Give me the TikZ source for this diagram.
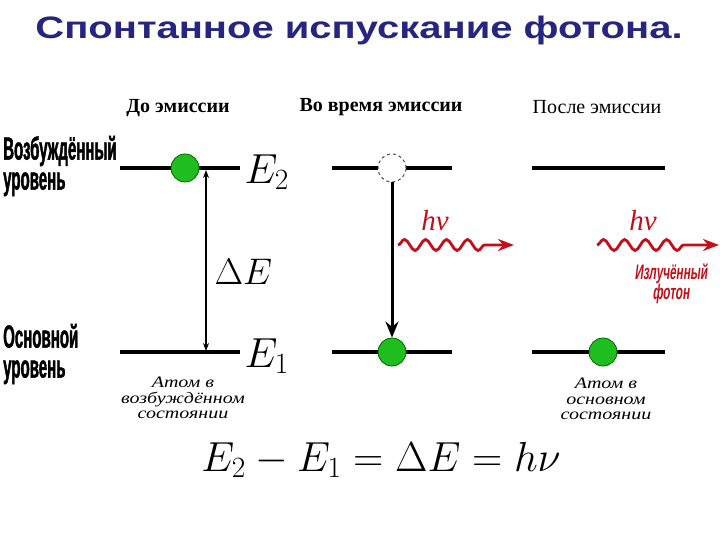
\RequirePackage{fix-cm}
\documentclass[tikz,border=0pt]{standalone}
\usepackage{amsmath}
\usepackage{fontspec}
\setmainfont{Liberation Serif}
\newfontfamily\titlefont[FakeStretch=1.29]{Liberation Sans}
\newfontfamily\narrowfont[FakeStretch=0.47,FakeBold=1.2]{Liberation Sans}
\newfontfamily\slantfont[FakeStretch=0.56,FakeSlant=0.12]{Liberation Sans}
\newfontfamily\atomfont[FakeStretch=1.25]{Liberation Serif}
\usetikzlibrary{arrows.meta,positioning,decorations.pathmorphing}
\definecolor{titleblue}{RGB}{38,38,128}
\definecolor{atomgreen}{RGB}{30,190,30}
\definecolor{photonred}{RGB}{195,15,25}

\begin{document}
\begin{tikzpicture}[x=1pt,y=-1pt,
  level/.style={line width=3.5pt},
  atom/.style={circle,draw=black!60!green,fill=atomgreen,line width=0.8pt,
    minimum size=28pt,inner sep=0pt},
  hole/.style={circle,draw=black!70,dashed,fill=white,line width=1pt,
    minimum size=28pt,inner sep=0pt},
  heading/.style={font=\fontsize{20}{22}\selectfont\bfseries},
  sidelabel/.style={font=\narrowfont\fontsize{32}{30}\selectfont\bfseries,
    align=left,inner sep=0pt},
  energy/.style={font=\fontsize{42}{46}\selectfont},
  state/.style={font=\atomfont\fontsize{16}{15.5}\selectfont\itshape,align=center},
  photon/.style={photonred,line width=2.8pt,-{Stealth[length=16pt,width=12pt]},
    decorate,decoration={snake,segment length=21pt,amplitude=5.5pt,post length=26pt}},
  quant/.style={photonred,font=\fontsize{29}{30}\selectfont\itshape}]

  \useasboundingbox (0,0) rectangle (720,540);

  % Title
  \node[titleblue,font=\titlefont\fontsize{31}{36}\selectfont\bfseries] (title) at (359,30)
    {Спонтанное испускание фотона.};

  % Column headings
  \node[heading] (head1) at (178,108) {До эмиссии};
  \node[heading] (head2) at (381,107) {Во время эмиссии};
  \node[heading,font=\fontsize{20}{22}\selectfont] (head3) at (597,107) {После эмиссии};

  % Level names
  \node[sidelabel,anchor=west] (upname) at (3,166) {Возбуждённый\\уровень};
  \node[sidelabel,anchor=west] (downname) at (3,354) {Основной\\уровень};

  % Energy levels
  \foreach \a/\b in {120/240,332/452,532/665} {
    \draw[level] (\a,168) -- (\b,168);
    \draw[level] (\a,352) -- (\b,352);
  }

  % Before emission
  \coordinate (up1) at (206,170);
  \coordinate (down1) at (206,351);
  \draw[line width=1.2pt,{Stealth[length=8pt,width=6pt]}-{Stealth[length=8pt,width=6pt]}]
    (down1) -- (up1);
  \node[atom] (atomA) at (185,168) {};
  \node[energy,anchor=west] (e2) at (241,172) {$E_2$};
  \node[energy,anchor=west,font=\fontsize{37}{40}\selectfont] (de) at (211,272) {$\Delta E$};
  \node[energy,anchor=west] (e1) at (241,356) {$E_1$};
  \node[state] (stateA) at (183,398) {Атом в\\возбуждённом\\состоянии};

  % During emission
  \node[hole] (holeB) at (392,168) {};
  \node[atom] (atomB) at (392,352) {};
  \draw[line width=3pt,-{Stealth[length=16pt,width=13pt]}] (holeB) -- (atomB);
  \coordinate (waveB1) at (398,245);
  \coordinate (waveB2) at (514,245);
  \draw[photon] (waveB1) -- (waveB2);
  \node[quant] (hvB) at (435,221) {hν};

  % After emission
  \node[atom] (atomC) at (603,352) {};
  \coordinate (waveC1) at (597,245);
  \coordinate (waveC2) at (719,245);
  \draw[photon] (waveC1) -- (waveC2);
  \node[quant] (hvC) at (643,221) {hν};
  \node[photonred,font=\slantfont\fontsize{21}{20}\selectfont\bfseries,align=center,
    inner sep=0pt] (emitted) at (671,284) {Излучённый\\фотон};
  \node[state] (stateC) at (606,399) {Атом в\\основном\\состоянии};

  % Energy relation
  \node[font=\fontsize{42}{46}\selectfont] (relation) at (381,460)
    {$E_2-E_1=\Delta E=h\nu$};

\end{tikzpicture}
\end{document}
